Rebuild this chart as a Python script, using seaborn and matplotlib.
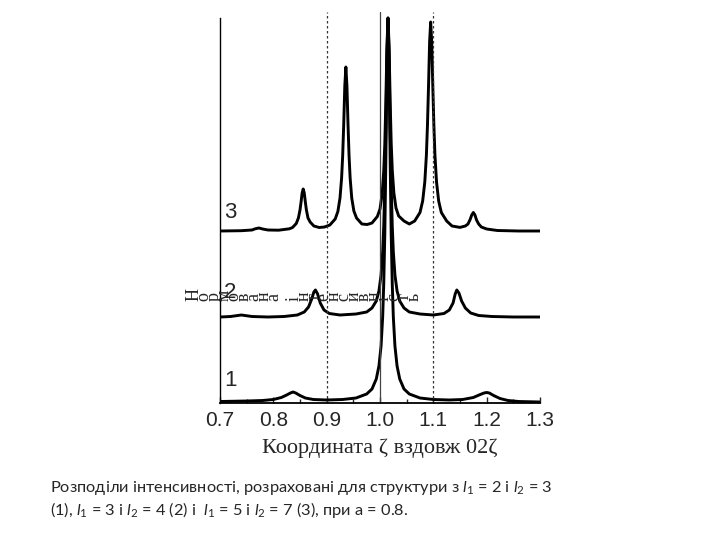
import pandas as pd
import seaborn as sns
import matplotlib.pyplot as plt
from matplotlib.ticker import MultipleLocator

# ---------------- Data ----------------
# y values: intensity in plot units, curves are stacked with offsets
x1 = [0.70, 0.75, 0.78, 0.80, 0.815, 0.825, 0.832, 0.837, 0.842, 0.85, 0.86, 0.875,
      0.90, 0.93, 0.955, 0.975, 0.985, 0.993, 0.998, 1.002, 1.005, 1.007, 1.009,
      1.011, 1.013, 1.015, 1.017, 1.019, 1.021, 1.023, 1.025, 1.028, 1.032, 1.037,
      1.045, 1.055, 1.075, 1.10, 1.13, 1.155, 1.175, 1.188, 1.195, 1.200, 1.205,
      1.213, 1.225, 1.24, 1.26, 1.30]
y1 = [1.5, 2, 2.5, 3.5, 5.5, 8, 10, 11, 10, 7.5, 5, 3.5,
      3, 3.5, 5, 9, 14, 24, 37, 57, 86, 119, 169,
      245, 335, 384, 335, 245, 169, 119, 86, 57, 37, 24,
      14, 9, 5, 3.5, 3, 3.5, 5.5, 8.5, 10, 10.5, 10,
      7.5, 4.5, 2.5, 1.5, 1]

x2 = [0.70, 0.72, 0.74, 0.76, 0.79, 0.82, 0.845, 0.858, 0.866, 0.872, 0.876, 0.879,
      0.883, 0.888, 0.895, 0.905, 0.925, 0.955, 0.975, 0.985, 0.993, 0.998, 1.002,
      1.005, 1.007, 1.009, 1.011, 1.013, 1.015, 1.017, 1.019, 1.021, 1.023, 1.025,
      1.028, 1.032, 1.037, 1.045, 1.055, 1.075, 1.10, 1.12, 1.13, 1.137, 1.141,
      1.144, 1.148, 1.153, 1.16, 1.17, 1.185, 1.21, 1.25, 1.30]
y2 = [86, 86.5, 88, 86.5, 86, 86.5, 88, 91, 96, 104, 111, 113,
      109, 100, 93, 89.5, 88, 89, 91, 95, 102, 112, 128,
      151, 177, 217, 276, 348, 385, 348, 276, 217, 177, 151,
      128, 112, 102, 95, 91, 89, 88, 89.5, 93, 100, 109,
      113, 110, 102, 95, 90, 87.5, 86.5, 86, 86]

x3 = [0.70, 0.74, 0.76, 0.766, 0.773, 0.78, 0.79, 0.81, 0.83, 0.836, 0.843, 0.847,
      0.850, 0.852, 0.854, 0.856, 0.858, 0.860, 0.862, 0.865, 0.869, 0.876, 0.886,
      0.896, 0.906, 0.916, 0.921, 0.925, 0.928, 0.930, 0.932, 0.934, 0.936, 0.938,
      0.940, 0.942, 0.944, 0.947, 0.951, 0.956, 0.966, 0.976, 0.985, 0.995, 1.000,
      1.004, 1.007, 1.009, 1.011, 1.013, 1.015, 1.017, 1.019, 1.021, 1.023, 1.026,
      1.030, 1.035, 1.045, 1.055, 1.065, 1.075, 1.080, 1.084, 1.087, 1.089, 1.091,
      1.093, 1.095, 1.097, 1.099, 1.101, 1.103, 1.106, 1.110, 1.115, 1.125, 1.135,
      1.150, 1.160, 1.165, 1.169, 1.172, 1.175, 1.178, 1.181, 1.185, 1.190, 1.200,
      1.22, 1.26, 1.30]
y3 = [172, 172.3, 173, 174.2, 175, 174, 173, 172.8, 174.2, 175.5, 179.5, 185,
      193, 201, 210, 214, 210, 201, 193, 185, 181, 177, 175.5,
      176, 178, 184, 191.5, 205, 225, 247, 279, 317, 336, 317,
      279, 247, 225, 205, 192, 185, 179, 178.5, 180, 186.5, 194,
      209, 232, 259, 302, 356, 385, 357, 303, 260, 233, 210,
      195, 187, 182, 179, 182, 190.5, 202, 221, 248, 278, 317,
      361, 381, 361, 317, 278, 248, 221, 202, 190.5, 182, 177,
      175.6, 177, 179, 183.5, 188, 190.5, 188, 183, 179, 176, 174,
      172.5, 172, 172]

curve_names = ["1", "2", "3"]
label_pos = [(0.708, 22), (0.708, 111), (0.708, 191)]
x_ticks = [0.7, 0.8, 0.9, 1.0, 1.1, 1.2, 1.3]
ref_lines = [0.9, 1.1]

# ---------------- Figure ----------------
sns.set_style("white")
plt.rcParams["mathtext.fontset"] = "custom"
plt.rcParams["mathtext.it"] = "Lato:italic"
plt.rcParams["mathtext.rm"] = "Lato"

fig = plt.figure(figsize=(7.2, 5.4), dpi=100)
ax = fig.add_axes([220 / 720, 137 / 540, 320 / 720, 391 / 540])

for xs, ys in [(x1, y1), (x2, y2), (x3, y3)]:
    df = pd.DataFrame({"x": xs, "y": ys})
    sns.lineplot(data=df, x="x", y="y", sort=False, estimator=None,
                 color="black", linewidth=2.1, ax=ax)

for xv in ref_lines:
    ax.axvline(xv, color="#333333", linestyle=(0, (2, 2)), linewidth=0.9)
ax.axvline(1.0, color="#444444", linewidth=0.9)

for name, (lx, ly) in zip(curve_names, label_pos):
    ax.text(lx, ly, name, fontsize=16, family="Liberation Sans",
            ha="left", va="center")

ax.set_xlim(0.7, 1.3)
ax.set_ylim(0, 391)
ax.set_xticks(x_ticks)
ax.set_xticklabels([f"{v:.1f}" for v in x_ticks], family="Liberation Sans", fontsize=15)
ax.xaxis.set_minor_locator(MultipleLocator(0.05))
ax.tick_params(axis="x", which="both", direction="in", bottom=True, length=4,
               width=1.0, pad=6)
ax.tick_params(axis="x", which="minor", length=3)
ax.set_yticks([])
ax.set_xlabel("Координата ζ вздовж 02ζ", family="Liberation Serif", fontsize=16,
              labelpad=6)
ax.set_ylabel("")

for s in ["top", "right"]:
    ax.spines[s].set_visible(False)
ax.spines["left"].set_bounds(0, 385)
ax.spines["left"].set_linewidth(1.0)
ax.spines["bottom"].set_linewidth(1.3)
ax.spines["left"].set_color("black")
ax.spines["bottom"].set_color("black")
ax.patch.set_alpha(0)

# broken y label: letters turned on their side, set in a row
ylab = "Нормована інтенсивність"
for i, ch in enumerate(ylab):
    fig.text((194 + i * 10) / 720, 1 - 301 / 540, ch, rotation=90,
             rotation_mode="anchor", family="Liberation Serif", fontsize=13,
             ha="left", va="center")

cap1 = "Розподіли інтенсивності, розраховані для структури з $l_1$ = 2 і $l_2$ = 3"
cap2 = "(1), $l_1$ = 3 і $l_2$ = 4 (2) і  $l_1$ = 5 і $l_2$ = 7 (3), при a = 0.8."
fig.text(50 / 720, 1 - 488 / 540, cap1, family="Lato", fontsize=11.8, va="center")
fig.text(50 / 720, 1 - 510 / 540, cap2, family="Lato", fontsize=11.8, va="center")

fig.savefig("out.png", dpi=100)
